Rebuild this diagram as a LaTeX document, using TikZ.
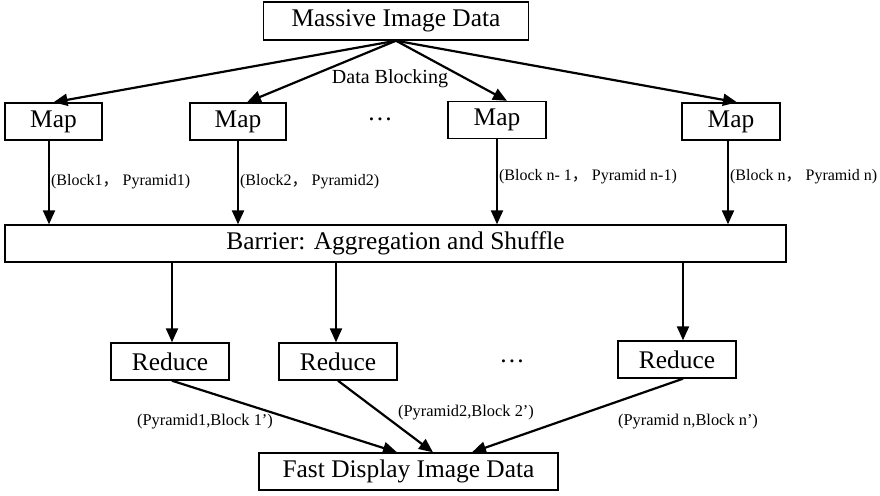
\documentclass[tikz,border=0pt]{standalone}
\usepackage{fontspec}
\setmainfont{Liberation Serif}
\newfontfamily\cjk{Noto Sans CJK SC}
\usetikzlibrary{arrows.meta}

\newcommand{\widecomma}{{\cjk ，}\hspace{2pt}}

\begin{document}
\begin{tikzpicture}[
    x=0.5pt, y=-0.5pt,
    box/.style={draw, line width=0.7pt, inner sep=0pt, minimum height=18.5pt,
    font=\fontsize{12.7}{15}\selectfont},
    flow/.style={line width=1.1pt, -{Triangle[length=7pt, width=6pt]}},
    pairlabel/.style={font=\fontsize{8}{10}\selectfont, inner sep=0.5pt},
    outlabel/.style={font=\fontsize{8.2}{10}\selectfont, inner sep=0pt},
    every node/.style={color=black}
    ]
    \useasboundingbox (0,0) rectangle (880,495);
    % Boxes
    \node[box, minimum width=132.5pt, minimum height=19pt] (massive) at (396,21) {Massive Image Data};
    \node[box, minimum width=48.5pt] (map1) at (53.5,121.5) {Map};
    \node[box, minimum width=48pt] (map2) at (238,121.5) {Map};
    \node[box, minimum width=49pt] (map3) at (497,120) {Map};
    \node[box, minimum width=49pt] (map4) at (731,121.5) {Map};
    \node[box, minimum width=390.5pt] (barrier) at (395.5,243.5) {Barrier: Aggregation and Shuffle};
    \node[box, minimum width=59pt] (reduce1) at (170,361.5) {Reduce};
    \node[box, minimum width=59pt] (reduce2) at (338,361.5) {Reduce};
    \node[box, minimum width=59pt] (reduce3) at (677,359.5) {Reduce};
    \node[box, minimum width=149.5pt] (fast) at (408.5,471.5) {Fast Display Image Data};
    % Dots and the blocking label
    \node[font=\fontsize{12.7}{15}\selectfont] (dots1) at (380,119) {…};
    \node[font=\fontsize{12.7}{15}\selectfont] (dots2) at (512,361) {…};
    \node[font=\fontsize{10}{12}\selectfont] (blocking) at (390,79) {Data Blocking};
    % Splitting the data
    \draw[flow] (massive.south) -- (map1.north);
    \draw[flow] (massive.south) -- ([xshift=4.5pt]map2.north);
    \draw[flow] (massive.south) -- ([xshift=5pt]map3.north);
    \draw[flow] (massive.south) -- ([xshift=3pt]map4.north);
    % Map outputs
    \draw[flow] ([xshift=-2.25pt]map1.south) -- ([xshift=-2.25pt]map1.south |- barrier.north)
        node[pairlabel, anchor=west, pos=0.49] (pair1) {(Block1\widecomma Pyramid1)};
    \draw[flow] (map2.south) -- (map2.south |- barrier.north)
        node[pairlabel, anchor=west, pos=0.49] (pair2) {(Block2\widecomma Pyramid2)};
    \draw[flow] (map3.south) -- (map3.south |- barrier.north)
        node[pairlabel, anchor=west, pos=0.44] (pair3) {(Block n- 1\widecomma Pyramid n-1)};
    \draw[flow] ([xshift=-1.5pt]map4.south) -- ([xshift=-1.5pt]map4.south |- barrier.north)
        node[pairlabel, anchor=west, pos=0.43] (pair4) {(Block n\widecomma Pyramid n)};
    % Shuffle to the reducers
    \draw[flow] ([xshift=1pt]reduce1.north |- barrier.south) -- ([xshift=1pt]reduce1.north);
    \draw[flow] ([xshift=-1pt]reduce2.north |- barrier.south) -- ([xshift=-1pt]reduce2.north);
    \draw[flow] ([xshift=3pt]reduce3.north |- barrier.south) -- ([xshift=3pt]reduce3.north);
    % Reducer outputs
    \draw[flow] ([xshift=1pt]reduce1.south) -- ([xshift=-5.75pt]fast.north);
    \draw[flow] (reduce2.south) -- ([xshift=12.25pt]fast.north);
    \draw[flow] ([xshift=3pt]reduce3.south) -- ([xshift=31.75pt]fast.north);
    \node[outlabel] (out1) at (205,422) {(Pyramid1,Block 1’)};
    \node[outlabel] (out2) at (466,413) {(Pyramid2,Block 2’)};
    \node[outlabel] (out3) at (688,422) {(Pyramid n,Block n’)};
\end{tikzpicture}
\end{document}
